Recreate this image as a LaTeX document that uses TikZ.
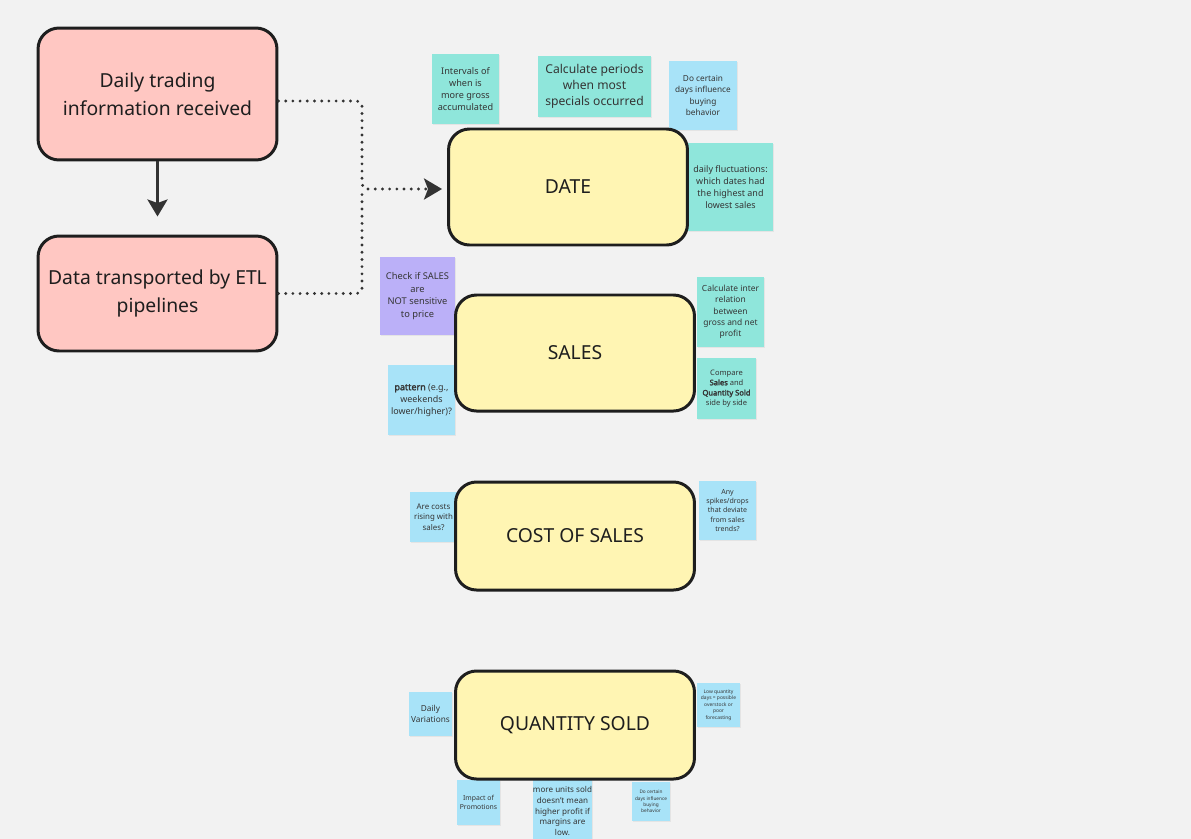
\documentclass[tikz,border=0pt]{standalone}
\usepackage{fontspec}
\setmainfont{Noto Sans}[AutoFakeBold=2.5]
\usetikzlibrary{positioning,arrows.meta,shadows}
\definecolor{bgcol}{HTML}{F2F2F2}
\definecolor{ink}{HTML}{1E1E1E}
\definecolor{pinkbox}{HTML}{FFC7C2}
\definecolor{yellowbox}{HTML}{FFF5B3}
\definecolor{tealnote}{HTML}{8FE6DB}
\definecolor{bluenote}{HTML}{A8E3F8}
\definecolor{purplenote}{HTML}{BBB0F8}
\definecolor{linkcol}{HTML}{333333}

\begin{document}
\begin{tikzpicture}[x=0.02cm,y=-0.02cm,
    block/.style={draw=ink, line width=1.7pt, rounded corners=0.42cm, align=center,
        text=ink, font=\fontsize{11}{16}\selectfont, minimum width=4.78cm},
    note/.style={inner sep=0pt, align=center, text=ink!90,
        drop shadow={shadow xshift=0.6pt, shadow yshift=-0.8pt, opacity=0.12}},
    nsize/.style 2 args={minimum width=#1*0.02cm, minimum height=#2*0.02cm},
    link/.style={linkcol, line width=1.8pt, line cap=round, dash pattern=on 0pt off 4.1pt, rounded corners=0.1cm},
    bigtip/.style={-{Stealth[length=0.34cm,width=0.4cm,inset=0.07cm]}},
    dottip/.style={-{Stealth[length=0.36cm,width=0.42cm,inset=0.08cm]}}
]
    \useasboundingbox (0,0) rectangle (1191,839);
    \fill[bgcol] (0,0) rectangle (1191,839);

    % sticky notes
    \node[note, fill=tealnote, nsize={67}{70}, font=\fontsize{5.2}{6.8}\selectfont] (n1) at (465.5,89)
        {Intervals of\\when is\\more gross\\accumulated};
    \node[note, fill=tealnote, nsize={113}{61}, font=\fontsize{6.9}{9.1}\selectfont] (n2) at (594.5,86.5)
        {Calculate periods\\when most\\specials occurred};
    \node[note, fill=bluenote, nsize={68}{69}, font=\fontsize{4.7}{6.4}\selectfont] (n3) at (703,95.5)
        {Do certain\\days influence\\buying\\behavior};
    \node[note, fill=tealnote, nsize={85}{88}, font=\fontsize{5.1}{6.9}\selectfont] (n4) at (730.5,187)
        {daily fluctuations:\\which dates had\\the highest and\\lowest sales};
    \node[note, fill=purplenote, nsize={75}{78}, font=\fontsize{5.3}{7.1}\selectfont] (n5) at (417.5,296)
        {Check if SALES\\are\\NOT sensitive\\to price};
    \node[note, fill=tealnote, nsize={67}{70}, font=\fontsize{4.8}{6.4}\selectfont] (n6) at (730.5,312)
        {Calculate inter\\relation\\between\\gross and net\\profit};
    \node[note, fill=tealnote, nsize={59}{61}, font=\fontsize{4.3}{5.8}\selectfont] (n7) at (726.5,388.5)
        {Compare\\\textbf{Sales} and\\\textbf{Quantity Sold}\\side by side};
    \node[note, fill=bluenote, nsize={67}{70}, font=\fontsize{5.1}{6.8}\selectfont] (n8) at (421.5,400)
        {\textbf{pattern} (e.g.,\\weekends\\lower/higher)?};
    \node[note, fill=bluenote, nsize={47}{50}, font=\fontsize{4.5}{6.0}\selectfont] (n9) at (433.5,517)
        {Are costs\\rising with\\sales?};
    \node[note, fill=bluenote, nsize={57}{59}, font=\fontsize{4.0}{5.3}\selectfont] (n10) at (727.5,510.5)
        {Any\\spikes/drops\\that deviate\\from sales\\trends?};
    \node[note, fill=bluenote, nsize={43}{44}, font=\fontsize{4.7}{6.2}\selectfont] (n11) at (430.5,714)
        {Daily\\Variations};
    \node[note, fill=bluenote, nsize={43}{44}, font=\fontsize{2.8}{3.7}\selectfont] (n12) at (718.5,705)
        {Low quantity\\days = possible\\overstock or\\poor\\forecasting};
    \node[note, fill=bluenote, nsize={43}{45}, font=\fontsize{3.9}{5.1}\selectfont] (n13) at (478.5,802.5)
        {Impact of\\Promotions};
    \node[note, fill=bluenote, nsize={57}{62}, font=\fontsize{4.6}{6.1}\selectfont] (n14) at (562.5,811)
        {more units sold\\doesn't mean\\higher profit if\\margins are\\low.};
    \node[note, fill=bluenote, nsize={38}{39}, font=\fontsize{2.7}{3.6}\selectfont] (n15) at (651,801.5)
        {Do certain\\days influence\\buying\\behavior};

    % source boxes
    \node[block, fill=pinkbox, minimum height=2.64cm] (trade) at (157.5,94)
        {Daily trading\\information received};
    \node[block, fill=pinkbox, minimum height=2.3cm] (etl) at (157.5,293.5)
        {Data transported by ETL\\pipelines};

    % metric boxes
    \foreach \nm/\txt/\cx/\cy/\hgt in {date/DATE/568/187/116, sales/SALES/575/353/116,
                                      cost/COST OF SALES/575/536/108, qty/QUANTITY SOLD/575/725/108}
        \node[block, fill=yellowbox, minimum height=\hgt*0.02cm] (\nm) at (\cx,\cy) {\txt};

    % connectors
    \draw[linkcol, line width=1.7pt, bigtip] (trade.south) -- ([yshift=0.36cm]etl.north);
    \coordinate (hub) at (362,189);
    \draw[link, dottip] ([yshift=-0.14cm]trade.east) -| (hub) -- ([xshift=-0.1cm,yshift=-0.04cm]date.west);
    \draw[link] (etl.east) -| (hub);
\end{tikzpicture}
\end{document}
